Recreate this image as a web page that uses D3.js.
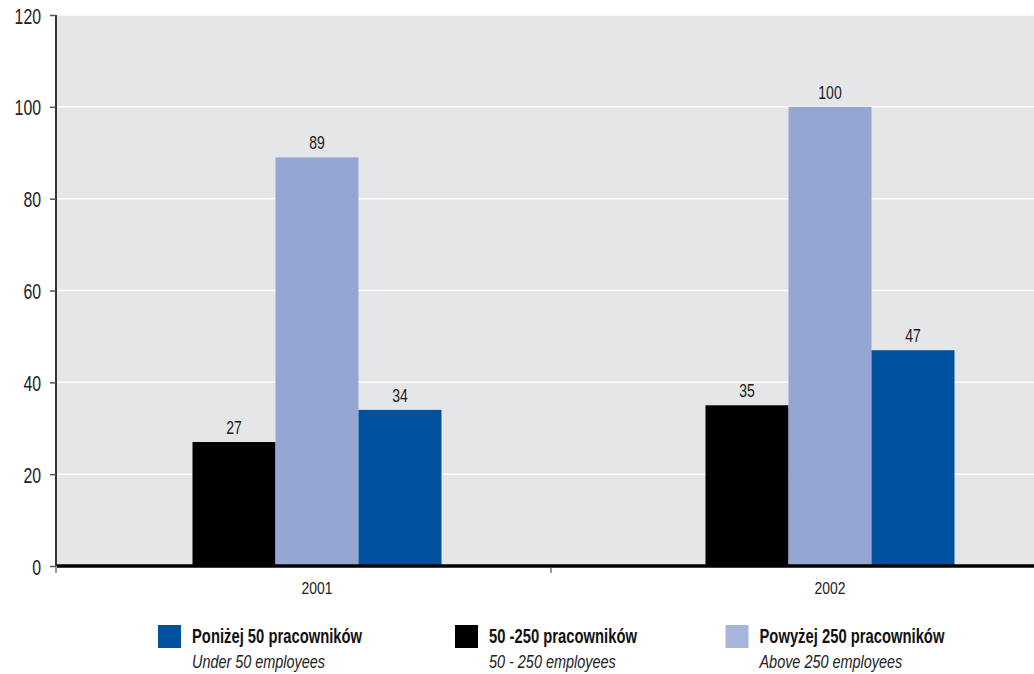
<!DOCTYPE html>
<html><head><meta charset="utf-8">
<script src="https://cdn.jsdelivr.net/npm/d3@7"></script>
<style>
body{margin:0;background:#fff;}
svg{display:block;font-family:"Liberation Sans",Arial,sans-serif;}
</style></head>
<body>
<svg id="c" width="1034" height="674"></svg>
<script>
const years = ["2001","2002"];
const seriesKeys = ["mid","large","small"];
const seriesColors = ["#000000","#94a6d1","#00529e"];
const midValues = [27, 35];
const largeValues = [89, 100];
const smallValues = [34, 47];
const yTicks = [0,20,40,60,80,100,120];
const legendKeys = ["small","mid","large"];
const legendColors = ["#00529e","#000000","#a9b6dc"];
const legendPl = ["Poniżej 50 pracowników","50 -250 pracowników","Powyżej 250 pracowników"];
const legendEn = ["Under 50 employees","50 - 250 employees","Above 250 employees"];

(function(){
const values = {mid: midValues, large: largeValues, small: smallValues};
const svg = d3.select("#c");
const pL = 57, pR = 1034, pT = 15, pB = 566;

const y = d3.scaleLinear().domain([0,120]).range([pB, pT]);
const x0 = d3.scaleBand().domain(years).range([60.5, 1086.5]);
const x1 = d3.scaleBand().domain(seriesKeys).range([0, 249]);
const color = d3.scaleOrdinal().domain(seriesKeys).range(seriesColors);

// condensed text helper
function ctext(sel, x, yy, sx){
  sel.attr("transform", (d,i)=>`translate(${x(d,i)},${yy(d,i)}) scale(${sx},1)`);
  return sel;
}

svg.append("rect").attr("x", pL).attr("y", pT).attr("width", pR-pL).attr("height", pB-pT).attr("fill","#e5e6e8");

svg.append("g").selectAll("line").data(yTicks.filter(d=>d>0)).join("line")
  .attr("x1", pL).attr("x2", pR).attr("y1", d=>y(d)).attr("y2", d=>y(d))
  .attr("stroke","#fff").attr("stroke-width",1.5);

const groups = svg.append("g").selectAll("g").data(years).join("g")
  .attr("transform", d=>`translate(${x0(d)+x0.bandwidth()/2-124.5},0)`);
groups.selectAll("rect").data((d,i)=>seriesKeys.map(k=>({k, v: values[k][i]}))).join("rect")
  .attr("x", d=>x1(d.k)).attr("width", x1.bandwidth())
  .attr("y", d=>y(d.v)).attr("height", d=>y(0)-y(d.v))
  .attr("fill", d=>color(d.k));
ctext(groups.selectAll("text").data((d,i)=>seriesKeys.map(k=>({k, v: values[k][i]}))).join("text")
  .attr("text-anchor","middle").attr("font-size",17.5).attr("fill","#1a1a1a")
  .text(d=>d.v), d=>x1(d.k)+x1.bandwidth()/2, d=>y(d.v)-8, 0.8);

const yAxis = svg.append("g").attr("transform",`translate(${pL-1},0)`)
  .call(d3.axisLeft(y).tickValues(yTicks).tickSize(6));
yAxis.select(".domain").attr("stroke","#333").attr("stroke-width",2).attr("d",`M0,${pT}V${pB}`);
yAxis.selectAll(".tick line").attr("stroke","#555").attr("stroke-width",1.5);
yAxis.selectAll(".tick text").remove();
ctext(svg.append("g").selectAll("text").data(yTicks).join("text")
  .attr("text-anchor","end").attr("font-size",22).attr("fill","#222").text(d=>d),
  ()=>41, d=>y(d)+8.5, 0.72);

svg.append("line").attr("x1",pL).attr("x2",pR).attr("y1",pB).attr("y2",pB)
  .attr("stroke","#000").attr("stroke-width",3.5);
svg.append("line").attr("x1",551).attr("x2",551).attr("y1",pB+2).attr("y2",pB+7)
  .attr("stroke","#777").attr("stroke-width",1.5);
svg.append("line").attr("x1",pL-1).attr("x2",pL-1).attr("y1",pB).attr("y2",pB+7)
  .attr("stroke","#777").attr("stroke-width",1.5);
ctext(svg.append("g").selectAll("text").data(years).join("text")
  .attr("text-anchor","middle").attr("font-size",16).attr("fill","#222").text(d=>d),
  d=>x0(d)+x0.bandwidth()/2, ()=>593.5, 0.87);

const lx = [158, 455, 725.5];
const lg = svg.append("g").selectAll("g").data(legendKeys).join("g")
  .attr("transform",(d,i)=>`translate(${lx[i]},625)`);
lg.append("rect").attr("width",23).attr("height",23).attr("fill",(d,i)=>legendColors[i]);
ctext(lg.append("text").attr("font-size",20).attr("font-weight","bold").attr("fill","#111")
  .text((d,i)=>legendPl[i]), ()=>34, ()=>18, 0.74);
ctext(lg.append("text").attr("font-size",18.5).attr("font-style","italic").attr("fill","#222")
  .text((d,i)=>legendEn[i]), ()=>34, ()=>43, 0.78);
})();
</script>
</body></html>
